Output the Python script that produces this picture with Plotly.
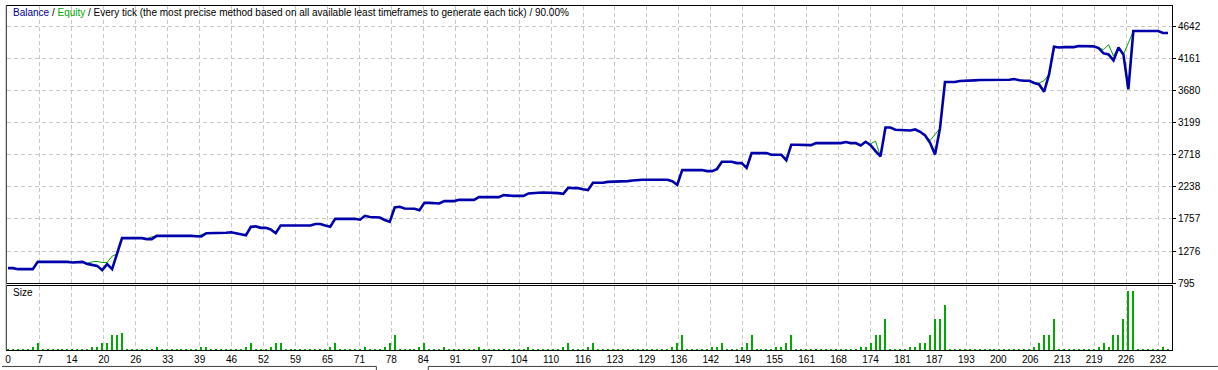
import plotly.graph_objects as go

# ---------------- data ----------------
balance = [
    1020, 1020, 1005, 1005, 1005, 1005, 1114, 1114, 1114, 1114,
    1114, 1118, 1114, 1105, 1114, 1114, 1084, 1070, 1054, 990,
    1080, 1005, 1248, 1469, 1469, 1469, 1469, 1469, 1455, 1455,
    1503, 1503, 1503, 1503, 1513, 1513, 1503, 1503, 1498, 1493,
    1543, 1543, 1543, 1543, 1550, 1558, 1543, 1535, 1513, 1638,
    1645, 1623, 1623, 1598, 1543, 1658, 1658, 1658, 1658, 1658,
    1658, 1658, 1680, 1680, 1658, 1640, 1758, 1758, 1758, 1758,
    1758, 1745, 1803, 1785, 1778, 1778, 1740, 1713, 1928, 1938,
    1913, 1908, 1908, 1888, 1997, 1997, 1988, 1988, 2023, 2023,
    2023, 2042, 2042, 2042, 2042, 2082, 2082, 2082, 2092, 2082,
    2112, 2102, 2102, 2102, 2102, 2138, 2147, 2147, 2152, 2152,
    2152, 2143, 2132, 2222, 2217, 2217, 2200, 2187, 2297, 2297,
    2297, 2311, 2311, 2311, 2311, 2322, 2332, 2342, 2342, 2342,
    2342, 2342, 2352, 2342, 2320, 2267, 2487, 2487, 2487, 2487,
    2487, 2472, 2472, 2502, 2611, 2611, 2611, 2592, 2592, 2521,
    2741, 2741, 2741, 2741, 2716, 2716, 2716, 2636, 2866, 2866,
    2866, 2866, 2861, 2891, 2891, 2881, 2881, 2891, 2891, 2906,
    2891, 2891, 2856, 2911, 2861, 2771, 2692, 3124, 3124, 3090,
    3090, 3090, 3080, 3095, 3060, 3005, 2895, 2721, 3111, 3804,
    3804, 3804, 3819, 3819, 3819, 3830, 3834, 3834, 3834, 3839,
    3839, 3839, 3839, 3849, 3830, 3824, 3824, 3790, 3769, 3659,
    3919, 4332, 4322, 4327, 4327, 4327, 4343, 4338, 4338, 4338,
    4312, 4233, 4218, 4128, 4322, 4218, 3695, 4567, 4567, 4567,
    4567, 4567, 4567, 4537, 4537,
]

equity = [
    1020, 1020, 1005, 1005, 1005, 1005, 1114, 1114, 1114, 1114,
    1114, 1118, 1114, 1105, 1114, 1114, 1090, 1115, 1120, 1105,
    1105, 1199, 1230, 1469, 1469, 1469, 1469, 1469, 1455, 1490,
    1503, 1503, 1503, 1503, 1513, 1513, 1503, 1503, 1498, 1520,
    1543, 1543, 1543, 1543, 1550, 1558, 1543, 1535, 1513, 1638,
    1645, 1623, 1623, 1598, 1543, 1658, 1658, 1658, 1658, 1658,
    1658, 1658, 1680, 1680, 1658, 1640, 1758, 1758, 1758, 1758,
    1758, 1745, 1803, 1785, 1778, 1778, 1740, 1713, 1928, 1938,
    1913, 1908, 1908, 1888, 1997, 1997, 1988, 1988, 2023, 2023,
    2023, 2042, 2042, 2042, 2042, 2082, 2082, 2082, 2092, 2082,
    2112, 2102, 2102, 2102, 2102, 2138, 2147, 2147, 2152, 2152,
    2152, 2143, 2132, 2222, 2217, 2217, 2200, 2187, 2297, 2297,
    2297, 2311, 2311, 2311, 2311, 2322, 2332, 2342, 2342, 2342,
    2342, 2342, 2352, 2342, 2320, 2267, 2487, 2487, 2487, 2487,
    2487, 2472, 2472, 2502, 2611, 2611, 2611, 2592, 2592, 2521,
    2741, 2741, 2741, 2741, 2716, 2716, 2716, 2636, 2866, 2866,
    2866, 2866, 2861, 2891, 2891, 2881, 2881, 2891, 2891, 2906,
    2891, 2891, 2856, 2911, 2880, 2921, 2692, 3124, 3124, 3090,
    3090, 3090, 3080, 3095, 3060, 3005, 2930, 3020, 3111, 3804,
    3804, 3804, 3819, 3819, 3819, 3830, 3834, 3834, 3834, 3839,
    3839, 3839, 3839, 3849, 3830, 3824, 3824, 3790, 3789, 3825,
    3919, 4332, 4322, 4327, 4327, 4327, 4343, 4338, 4338, 4338,
    4312, 4290, 4365, 4193, 4322, 4218, 4390, 4567, 4567, 4567,
    4567, 4567, 4567, 4537, 4537,
]

sizes = [
    .01, .01, .01, .02, .02, .04, .08, .01, .01, .01,
    .01, .01, .01, .01, .01, .01, .02, .04, .04, .08,
    .08, .16, .16, .18, .01, .01, .01, .01, .02, .01,
    .04, .01, .01, .01, .01, .01, .01, .02, .01, .04,
    .04, .01, .01, .01, .01, .01, .01, .02, .04, .08,
    .01, .01, .02, .04, .08, .08, .01, .01, .01, .01,
    .01, .02, .01, .01, .02, .04, .08, .01, .01, .01,
    .01, .02, .04, .01, .01, .02, .04, .08, .16, .01,
    .01, .01, .02, .04, .08, .01, .01, .02, .04, .01,
    .01, .01, .01, .01, .02, .04, .01, .01, .01, .01,
    .02, .01, .01, .01, .02, .04, .01, .01, .01, .01,
    .01, .02, .04, .08, .01, .01, .02, .04, .08, .01,
    .01, .02, .01, .01, .01, .02, .01, .01, .01, .01,
    .01, .01, .01, .02, .04, .08, .16, .01, .01, .01,
    .01, .02, .04, .04, .08, .01, .01, .02, .04, .08,
    .16, .01, .01, .01, .02, .04, .04, .08, .16, .01,
    .01, .01, .02, .01, .01, .01, .01, .01, .01, .01,
    .01, .02, .04, .04, .08, .16, .16, .32, .01, .01,
    .02, .02, .04, .04, .08, .08, .16, .32, .32, .47,
    .01, .01, .01, .01, .01, .02, .01, .01, .01, .01,
    .02, .02, .01, .01, .01, .01, .02, .04, .08, .16,
    .16, .32, .01, .01, .01, .02, .01, .01, .02, .01,
    .04, .08, .04, .16, .16, .32, .61, .61, .01, .01,
    .01, .01, .02, .04, .02,
]

trades = list(range(len(balance)))

x_tick_labels = ["0", "7", "14", "20", "26", "33", "39", "46", "52", "59", "65", "71",
                 "78", "84", "91", "97", "104", "110", "116", "123", "129", "136", "142",
                 "149", "155", "161", "168", "174", "181", "187", "193", "200", "206",
                 "213", "219", "226", "232"]
y_tick_values = [795, 1276, 1757, 2238, 2718, 3199, 3680, 4161, 4642]

title_html = ('<span style="color:#00009c">Balance</span> / '
              '<span style="color:#00a800">Equity</span> / Every tick (the most precise method '
              'based on all available least timeframes to generate each tick) / 90.00%')

# ---------------- layout geometry (pixels) ----------------
W, H = 1218, 370
L, R, T, B = 5, 1172, 5, 350          # overall plot box
MAIN_BOTTOM = 283
SIZE_TOP = 286
GRID_STEP = 6.444                      # trades per vertical grid line

def px(xp):
    return (xp - L) / (R - L)

def py(yp):
    return (B - yp) / (B - T)

FONT = "Liberation Sans"
grid_col = "#c8c8c8"

fig = go.Figure()

fig.add_trace(go.Scatter(x=trades, y=equity, mode="lines",
                         line=dict(color="#00a000", width=1),
                         xaxis="x", yaxis="y", hoverinfo="skip", showlegend=False))
fig.add_trace(go.Scatter(x=trades, y=balance, mode="lines",
                         line=dict(color="#0000aa", width=2.6),
                         xaxis="x", yaxis="y", hoverinfo="skip", showlegend=False))
fig.add_trace(go.Bar(x=trades, y=sizes, width=0.22,
                     marker=dict(color="#00a800", line=dict(width=0)),
                     xaxis="x2", yaxis="y2", hoverinfo="skip", showlegend=False))

tickvals_x = [k * GRID_STEP for k in range(len(x_tick_labels))]
xr = [-0.2, 234.8]

common_x = dict(range=xr, showgrid=True, gridcolor=grid_col, griddash="4px,3px",
                gridwidth=1, zeroline=False, showline=True, linecolor="black",
                linewidth=1, mirror=True, tickvals=tickvals_x, ticktext=x_tick_labels,
                fixedrange=True)

fig.update_layout(
    width=W, height=H,
    margin=dict(l=L, r=W - R, t=T, b=H - B, pad=0),
    paper_bgcolor="white", plot_bgcolor="white",
    bargap=0,
    font=dict(family=FONT, size=10, color="black"),
    xaxis=dict(**common_x, anchor="y", showticklabels=False, ticks=""),
    xaxis2=dict(**common_x, anchor="y2", matches="x", showticklabels=True, ticks="",
                tickfont=dict(family=FONT, size=10, color="black")),
    yaxis=dict(domain=[py(MAIN_BOTTOM), 1], range=[795, 4942], side="right",
               tickvals=y_tick_values, ticktext=[str(v) for v in y_tick_values],
               ticks="outside", ticklen=3, tickcolor="black",
               showgrid=True, gridcolor=grid_col, griddash="4px,3px", zeroline=False,
               showline=True, linecolor="black", linewidth=1, mirror=True,
               tickfont=dict(family=FONT, size=10, color="black"), fixedrange=True),
    yaxis2=dict(domain=[0, py(SIZE_TOP)], range=[0.01, 0.66], side="right",
                showticklabels=False, ticks="", showgrid=False, zeroline=False,
                showline=True, linecolor="black", linewidth=1, mirror=True,
                fixedrange=True),
    annotations=[
        dict(text=title_html, x=px(9), y=py(12), xref="paper", yref="paper",
             xanchor="left", yanchor="middle", showarrow=False,
             font=dict(family=FONT, size=10, color="black")),
        dict(text="Size", x=px(9), y=py(292), xref="paper", yref="paper",
             xanchor="left", yanchor="middle", showarrow=False,
             font=dict(family=FONT, size=10, color="black")),
    ],
    shapes=[
        dict(type="line", xref="paper", yref="paper", x0=px(4), x1=px(4),
             y0=py(4), y1=py(350), line=dict(color="#a0a0a0", width=1)),
        dict(type="line", xref="paper", yref="paper", x0=px(0), x1=px(375),
             y0=py(366.5), y1=py(366.5), line=dict(color="#404040", width=1)),
        dict(type="line", xref="paper", yref="paper", x0=px(375), x1=px(375),
             y0=py(366.5), y1=py(371), line=dict(color="#404040", width=1)),
        dict(type="line", xref="paper", yref="paper", x0=px(427), x1=px(1218),
             y0=py(366.5), y1=py(366.5), line=dict(color="#404040", width=1)),
        dict(type="line", xref="paper", yref="paper", x0=px(427), x1=px(427),
             y0=py(366.5), y1=py(371), line=dict(color="#404040", width=1)),
    ],
)

fig.write_html("out.html")
